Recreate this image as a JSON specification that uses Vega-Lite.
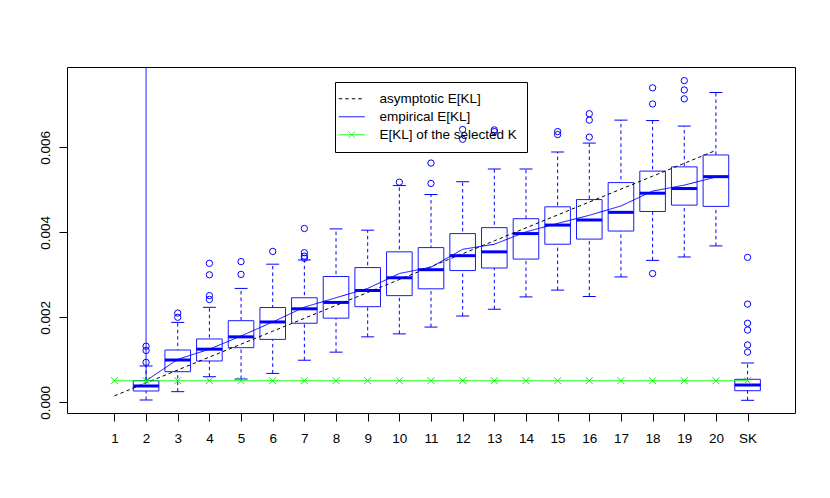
{
  "$schema": "https://vega.github.io/schema/vega-lite/v6.json",
  "width": 728,
  "height": 346,
  "autosize": "none",
  "padding": {"left": 67, "top": 67, "right": 35, "bottom": 85},
  "background": "white",
  "config": {
    "view": {"stroke": "black", "strokeWidth": 1},
    "axis": {"labelFont": "Liberation Sans", "labelFontSize": 13.5, "labelColor": "black", "tickColor": "black", "domain": false, "grid": false},
    "font": "Liberation Sans"
  },
  "datasets": {
    "boxes": [
      {"K": 2, "lo": 0.000054, "q1": 0.000266, "med": 0.000384, "q3": 0.000508, "hi": 0.000855},
      {"K": 3, "lo": 0.00025, "q1": 0.00072, "med": 0.000995, "q3": 0.00123, "hi": 0.00188},
      {"K": 4, "lo": 0.000602, "q1": 0.000972, "med": 0.00125, "q3": 0.00149, "hi": 0.002235},
      {"K": 5, "lo": 0.000548, "q1": 0.001285, "med": 0.00154, "q3": 0.00192, "hi": 0.00268},
      {"K": 6, "lo": 0.00068, "q1": 0.00148, "med": 0.00189, "q3": 0.00223, "hi": 0.00325},
      {"K": 7, "lo": 0.00099, "q1": 0.00186, "med": 0.0022, "q3": 0.00246, "hi": 0.00335},
      {"K": 8, "lo": 0.00118, "q1": 0.00198, "med": 0.00235, "q3": 0.00296, "hi": 0.00408},
      {"K": 9, "lo": 0.00154, "q1": 0.00225, "med": 0.00263, "q3": 0.00317, "hi": 0.00405},
      {"K": 10, "lo": 0.00161, "q1": 0.00251, "med": 0.00293, "q3": 0.00354, "hi": 0.0051},
      {"K": 11, "lo": 0.00177, "q1": 0.00267, "med": 0.00312, "q3": 0.00364, "hi": 0.00489},
      {"K": 12, "lo": 0.00203, "q1": 0.0031, "med": 0.00345, "q3": 0.00397, "hi": 0.00519},
      {"K": 13, "lo": 0.00219, "q1": 0.00316, "med": 0.00354, "q3": 0.00411, "hi": 0.00549},
      {"K": 14, "lo": 0.00248, "q1": 0.00337, "med": 0.00397, "q3": 0.00432, "hi": 0.00549},
      {"K": 15, "lo": 0.00264, "q1": 0.00372, "med": 0.00417, "q3": 0.0046, "hi": 0.00589},
      {"K": 16, "lo": 0.00249, "q1": 0.00384, "med": 0.00429, "q3": 0.00477, "hi": 0.0061},
      {"K": 17, "lo": 0.00295, "q1": 0.00403, "med": 0.00447, "q3": 0.00517, "hi": 0.00664},
      {"K": 18, "lo": 0.00334, "q1": 0.00449, "med": 0.00492, "q3": 0.00544, "hi": 0.00663},
      {"K": 19, "lo": 0.00342, "q1": 0.00464, "med": 0.00503, "q3": 0.00554, "hi": 0.0065},
      {"K": 20, "lo": 0.00368, "q1": 0.00461, "med": 0.00531, "q3": 0.00582, "hi": 0.00729},
      {"K": 21, "lo": 0.000047, "q1": 0.000273, "med": 0.000407, "q3": 0.000541, "hi": 0.000925}
    ],
    "outliers": [
      {"K": 2, "v": 0.00132}, {"K": 2, "v": 0.00122}, {"K": 2, "v": 0.00094},
      {"K": 3, "v": 0.0021}, {"K": 3, "v": 0.002},
      {"K": 4, "v": 0.00327}, {"K": 4, "v": 0.003}, {"K": 4, "v": 0.00251}, {"K": 4, "v": 0.00242},
      {"K": 5, "v": 0.00331}, {"K": 5, "v": 0.00301},
      {"K": 6, "v": 0.00355},
      {"K": 7, "v": 0.00409}, {"K": 7, "v": 0.00352}, {"K": 7, "v": 0.00344}, {"K": 7, "v": 0.00339},
      {"K": 10, "v": 0.00518},
      {"K": 11, "v": 0.00563}, {"K": 11, "v": 0.00515},
      {"K": 12, "v": 0.00642}, {"K": 12, "v": 0.00619},
      {"K": 13, "v": 0.00641}, {"K": 13, "v": 0.00637},
      {"K": 15, "v": 0.00637}, {"K": 15, "v": 0.0063},
      {"K": 16, "v": 0.00679}, {"K": 16, "v": 0.00664}, {"K": 16, "v": 0.00624},
      {"K": 18, "v": 0.0074}, {"K": 18, "v": 0.00702}, {"K": 18, "v": 0.00303},
      {"K": 19, "v": 0.00757}, {"K": 19, "v": 0.00735}, {"K": 19, "v": 0.00714},
      {"K": 21, "v": 0.00341}, {"K": 21, "v": 0.00231}, {"K": 21, "v": 0.00186}, {"K": 21, "v": 0.0017}, {"K": 21, "v": 0.00135}, {"K": 21, "v": 0.00118}
    ],
    "lines": [
      {"series": "asymptotic E[KL]", "K": 1, "v": 0.000152, "ord": 1},
      {"series": "asymptotic E[KL]", "K": 2, "v": 0.000456, "ord": 2},
      {"series": "asymptotic E[KL]", "K": 3, "v": 0.00076, "ord": 3},
      {"series": "asymptotic E[KL]", "K": 4, "v": 0.001064, "ord": 4},
      {"series": "asymptotic E[KL]", "K": 5, "v": 0.001368, "ord": 5},
      {"series": "asymptotic E[KL]", "K": 6, "v": 0.001672, "ord": 6},
      {"series": "asymptotic E[KL]", "K": 7, "v": 0.001976, "ord": 7},
      {"series": "asymptotic E[KL]", "K": 8, "v": 0.00228, "ord": 8},
      {"series": "asymptotic E[KL]", "K": 9, "v": 0.002584, "ord": 9},
      {"series": "asymptotic E[KL]", "K": 10, "v": 0.002888, "ord": 10},
      {"series": "asymptotic E[KL]", "K": 11, "v": 0.003192, "ord": 11},
      {"series": "asymptotic E[KL]", "K": 12, "v": 0.003496, "ord": 12},
      {"series": "asymptotic E[KL]", "K": 13, "v": 0.0038, "ord": 13},
      {"series": "asymptotic E[KL]", "K": 14, "v": 0.004104, "ord": 14},
      {"series": "asymptotic E[KL]", "K": 15, "v": 0.004408, "ord": 15},
      {"series": "asymptotic E[KL]", "K": 16, "v": 0.004712, "ord": 16},
      {"series": "asymptotic E[KL]", "K": 17, "v": 0.005016, "ord": 17},
      {"series": "asymptotic E[KL]", "K": 18, "v": 0.00532, "ord": 18},
      {"series": "asymptotic E[KL]", "K": 19, "v": 0.005624, "ord": 19},
      {"series": "asymptotic E[KL]", "K": 20, "v": 0.005928, "ord": 20},
      {"series": "empirical E[KL]", "K": 2, "v": 0.03, "ord": 0},
      {"series": "empirical E[KL]", "K": 2, "v": 0.000508, "ord": 1},
      {"series": "empirical E[KL]", "K": 3, "v": 0.00101, "ord": 3},
      {"series": "empirical E[KL]", "K": 4, "v": 0.00125, "ord": 4},
      {"series": "empirical E[KL]", "K": 5, "v": 0.00156, "ord": 5},
      {"series": "empirical E[KL]", "K": 6, "v": 0.00189, "ord": 6},
      {"series": "empirical E[KL]", "K": 7, "v": 0.00224, "ord": 7},
      {"series": "empirical E[KL]", "K": 8, "v": 0.00246, "ord": 8},
      {"series": "empirical E[KL]", "K": 9, "v": 0.00268, "ord": 9},
      {"series": "empirical E[KL]", "K": 10, "v": 0.00303, "ord": 10},
      {"series": "empirical E[KL]", "K": 11, "v": 0.00318, "ord": 11},
      {"series": "empirical E[KL]", "K": 12, "v": 0.0036, "ord": 12},
      {"series": "empirical E[KL]", "K": 13, "v": 0.00372, "ord": 13},
      {"series": "empirical E[KL]", "K": 14, "v": 0.00401, "ord": 14},
      {"series": "empirical E[KL]", "K": 15, "v": 0.00421, "ord": 15},
      {"series": "empirical E[KL]", "K": 16, "v": 0.0044, "ord": 16},
      {"series": "empirical E[KL]", "K": 17, "v": 0.00462, "ord": 17},
      {"series": "empirical E[KL]", "K": 18, "v": 0.00497, "ord": 18},
      {"series": "empirical E[KL]", "K": 19, "v": 0.00511, "ord": 19},
      {"series": "empirical E[KL]", "K": 20, "v": 0.0053, "ord": 20},
      {"series": "E[KL] of the selected K", "K": 1, "v": 0.000508, "ord": 1},
      {"series": "E[KL] of the selected K", "K": 2, "v": 0.000508, "ord": 2},
      {"series": "E[KL] of the selected K", "K": 3, "v": 0.000508, "ord": 3},
      {"series": "E[KL] of the selected K", "K": 4, "v": 0.000508, "ord": 4},
      {"series": "E[KL] of the selected K", "K": 5, "v": 0.000508, "ord": 5},
      {"series": "E[KL] of the selected K", "K": 6, "v": 0.000508, "ord": 6},
      {"series": "E[KL] of the selected K", "K": 7, "v": 0.000508, "ord": 7},
      {"series": "E[KL] of the selected K", "K": 8, "v": 0.000508, "ord": 8},
      {"series": "E[KL] of the selected K", "K": 9, "v": 0.000508, "ord": 9},
      {"series": "E[KL] of the selected K", "K": 10, "v": 0.000508, "ord": 10},
      {"series": "E[KL] of the selected K", "K": 11, "v": 0.000508, "ord": 11},
      {"series": "E[KL] of the selected K", "K": 12, "v": 0.000508, "ord": 12},
      {"series": "E[KL] of the selected K", "K": 13, "v": 0.000508, "ord": 13},
      {"series": "E[KL] of the selected K", "K": 14, "v": 0.000508, "ord": 14},
      {"series": "E[KL] of the selected K", "K": 15, "v": 0.000508, "ord": 15},
      {"series": "E[KL] of the selected K", "K": 16, "v": 0.000508, "ord": 16},
      {"series": "E[KL] of the selected K", "K": 17, "v": 0.000508, "ord": 17},
      {"series": "E[KL] of the selected K", "K": 18, "v": 0.000508, "ord": 18},
      {"series": "E[KL] of the selected K", "K": 19, "v": 0.000508, "ord": 19},
      {"series": "E[KL] of the selected K", "K": 20, "v": 0.000508, "ord": 20},
      {"series": "E[KL] of the selected K", "K": 21, "v": 0.000508, "ord": 21}
    ]
  },
  "encoding": {
    "x": {
      "field": "K", "type": "quantitative", "title": null,
      "scale": {"domain": [-0.34, 22.34], "nice": false, "zero": false},
      "axis": {
        "values": [1,2,3,4,5,6,7,8,9,10,11,12,13,14,15,16,17,18,19,20,21],
        "labelExpr": "datum.value == 21 ? 'SK' : datum.label",
        "tickSize": 8, "labelPadding": 10, "labelAngle": 0, "labelOverlap": false, "labelFlush": false
      }
    }
  },
  "layer": [
    {
      "data": {"name": "boxes"},
      "mark": {"type": "rule", "color": "blue", "opacity": 1, "strokeWidth": 1, "strokeDash": [3.5, 3]},
      "encoding": {
        "y": {"field": "lo", "type": "quantitative", "title": null,
          "scale": {"domain": [-0.000252, 0.00789], "nice": false, "zero": false},
          "axis": {"values": [0, 0.002, 0.004, 0.006], "format": ".3f", "labelAngle": 270, "labelAlign": "center", "labelBaseline": "alphabetic", "labelPadding": 10, "tickSize": 8}},
        "y2": {"field": "hi"}
      }
    },
    {
      "data": {"name": "boxes"},
      "mark": {"type": "bar", "width": 25.6, "color": "blue", "fill": "white", "fillOpacity": 1, "stroke": "#1a1aff", "strokeWidth": 1, "opacity": 1},
      "encoding": {
        "y": {"field": "q1", "type": "quantitative", "title": null, "scale": {"domain": [-0.000252, 0.00789], "nice": false, "zero": false}},
        "y2": {"field": "q3"}
      }
    },
    {
      "data": {"name": "boxes"},
      "mark": {"type": "tick", "orient": "horizontal", "size": 25.6, "thickness": 3, "color": "blue", "opacity": 1},
      "encoding": {
        "y": {"field": "med", "type": "quantitative", "title": null, "scale": {"domain": [-0.000252, 0.00789], "nice": false, "zero": false}}
      }
    },
    {
      "data": {"name": "boxes"},
      "mark": {"type": "tick", "orient": "horizontal", "size": 13, "thickness": 1, "color": "blue", "opacity": 1},
      "encoding": {
        "y": {"field": "hi", "type": "quantitative", "title": null, "scale": {"domain": [-0.000252, 0.00789], "nice": false, "zero": false}}
      }
    },
    {
      "data": {"name": "boxes"},
      "mark": {"type": "tick", "orient": "horizontal", "size": 13, "thickness": 1, "color": "blue", "opacity": 1},
      "encoding": {
        "y": {"field": "lo", "type": "quantitative", "title": null, "scale": {"domain": [-0.000252, 0.00789], "nice": false, "zero": false}}
      }
    },
    {
      "data": {"name": "outliers"},
      "mark": {"type": "point", "shape": "circle", "filled": false, "size": 40, "stroke": "blue", "strokeWidth": 1, "opacity": 1},
      "encoding": {
        "y": {"field": "v", "type": "quantitative", "title": null, "scale": {"domain": [-0.000252, 0.00789], "nice": false, "zero": false}}
      }
    },
    {
      "data": {"name": "lines"},
      "mark": {"type": "line", "strokeWidth": 1, "clip": true},
      "encoding": {
        "y": {"field": "v", "type": "quantitative", "title": null, "scale": {"domain": [-0.000252, 0.00789], "nice": false, "zero": false}},
        "order": {"field": "ord", "type": "quantitative"},
        "color": {
          "field": "series", "type": "nominal",
          "scale": {"domain": ["asymptotic E[KL]", "empirical E[KL]", "E[KL] of the selected K"], "range": ["black", "blue", "#00ff00"]},
          "legend": {
            "title": null, "orient": "none", "legendX": 268, "legendY": 15,
            "strokeColor": "black", "padding": 10, "cornerRadius": 0, "fillColor": null,
            "labelFont": "Liberation Sans", "labelFontSize": 13.5, "labelColor": "black",
            "symbolType": "M-2.6,0L2.6,0", "symbolSize": 100, "symbolStrokeWidth": 1,
            "labelOffset": 21, "rowPadding": 3,
            "encode": {
              "symbols": {
                "update": {
                  "shape": {"signal": "datum.value === 'E[KL] of the selected K' ? 'M-2.6,0L2.6,0M-0.7,-0.7L0.7,0.7M0.7,-0.7L-0.7,0.7' : 'M-2.6,0L2.6,0'"},
                  "strokeDash": {"signal": "datum.value === 'asymptotic E[KL]' ? [3.5, 3] : [1, 0]"}
                }
              }
            }
          }
        },
        "strokeDash": {
          "field": "series", "type": "nominal", "legend": null,
          "scale": {"domain": ["asymptotic E[KL]", "empirical E[KL]", "E[KL] of the selected K"], "range": [[3.5, 3], [1, 0], [1, 0]]}
        }
      }
    },
    {
      "data": {"name": "lines"},
      "transform": [{"filter": "datum.series === 'E[KL] of the selected K'"}],
      "mark": {"type": "point", "shape": "M-1,-1L1,1M1,-1L-1,1", "filled": false, "size": 49, "stroke": "#00ff00", "strokeWidth": 1, "opacity": 1},
      "encoding": {
        "y": {"field": "v", "type": "quantitative", "title": null, "scale": {"domain": [-0.000252, 0.00789], "nice": false, "zero": false}}
      }
    }
  ]
}
